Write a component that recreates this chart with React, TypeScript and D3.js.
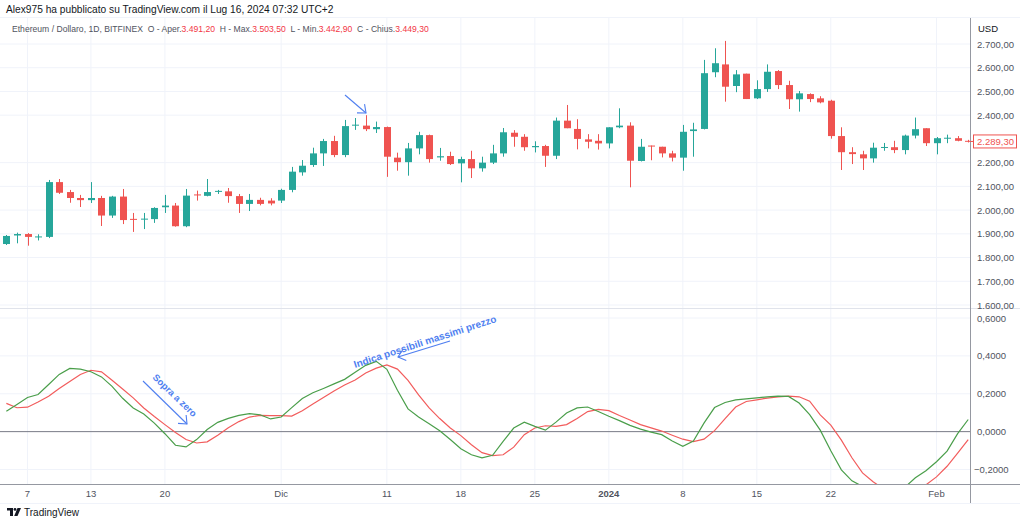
import React from "react";
import * as d3 from "d3";

// ---- DATA ----
const startDay = new Date(2023, 10, 5);
const endDay = new Date(2024, 1, 5);
const dates: Date[] = d3.timeDay.range(startDay, endDay); // 92 daily candles

const open = [1857,1893,1899,1886,1887,2118,2076,2051,2042,2051,1977,2057,1963,1960,1962,2012,2019,1932,2066,2060,2079,2079,2059,2026,2043,2040,2040,2085,2159,2190,2239,2291,2232,2356,2356,2341,2350,2221,2202,2260,2316,2222,2228,2197,2215,2176,2200,2239,2326,2309,2265,2270,2229,2377,2342,2298,2292,2281,2349,2356,2207,2272,2267,2239,2221,2333,2342,2581,2614,2523,2575,2471,2510,2586,2527,2467,2489,2471,2461,2312,2244,2235,2218,2263,2265,2253,2314,2345,2282,2301,2303,2292];
const high = [1895,1905,1903,1898,2127,2131,2085,2064,2118,2060,2060,2089,1988,1988,2012,2064,2030,2089,2082,2131,2085,2093,2068,2068,2052,2050,2090,2182,2211,2263,2300,2313,2380,2388,2400,2373,2352,2242,2283,2330,2318,2262,2246,2225,2250,2225,2275,2346,2337,2320,2290,2275,2390,2443,2383,2320,2320,2349,2429,2370,2300,2272,2267,2250,2359,2368,2633,2682,2713,2590,2575,2547,2614,2590,2545,2502,2492,2480,2465,2349,2265,2250,2284,2283,2292,2318,2390,2345,2308,2318,2312,2296];
const low = [1853,1860,1850,1872,1882,2068,2031,2013,2030,1933,1967,1941,1908,1920,1946,1988,1930,1928,2040,2058,2068,2031,1988,1996,2020,2020,2030,2075,2145,2182,2186,2223,2223,2338,2333,2325,2140,2166,2145,2235,2200,2208,2190,2117,2135,2162,2194,2225,2267,2250,2243,2182,2215,2345,2256,2260,2255,2260,2345,2096,2205,2210,2222,2205,2166,2225,2340,2560,2457,2497,2468,2468,2498,2510,2426,2415,2455,2450,2301,2169,2194,2169,2200,2250,2240,2235,2302,2270,2235,2282,2290,2285];
const close = [1891,1899,1887,1889,2118,2073,2051,2042,2051,1977,2057,1958,1960,1964,2009,2019,1932,2061,2062,2076,2081,2059,2026,2043,2026,2028,2085,2162,2187,2239,2291,2232,2354,2360,2341,2350,2225,2202,2260,2316,2215,2227,2194,2215,2176,2200,2239,2328,2309,2265,2270,2229,2377,2345,2300,2288,2281,2349,2356,2208,2267,2268,2239,2221,2330,2340,2577,2619,2520,2572,2468,2510,2583,2527,2467,2492,2468,2454,2312,2244,2236,2218,2263,2266,2253,2314,2341,2282,2303,2305,2292,2289.3];

const fastLine = [0.107,0.143,0.180,0.196,0.249,0.302,0.334,0.330,0.316,0.289,0.239,0.176,0.125,0.093,0.045,-0.011,-0.072,-0.081,-0.042,0.011,0.049,0.070,0.086,0.095,0.089,0.067,0.077,0.127,0.175,0.205,0.228,0.252,0.276,0.313,0.350,0.371,0.329,0.218,0.120,0.077,0.042,0.005,-0.042,-0.090,-0.122,-0.138,-0.125,-0.051,0.019,0.050,0.028,0.008,0.050,0.098,0.125,0.130,0.106,0.081,0.058,0.033,0.013,-0.003,-0.016,-0.050,-0.078,-0.050,0.045,0.127,0.154,0.168,0.173,0.178,0.184,0.187,0.186,0.151,0.090,0.008,-0.101,-0.202,-0.260,-0.289,-0.308,-0.318,-0.313,-0.294,-0.244,-0.207,-0.159,-0.103,-0.011,0.064];
const slowLine = [0.149,0.126,0.129,0.156,0.187,0.228,0.265,0.302,0.324,0.316,0.271,0.225,0.178,0.125,0.080,0.037,-0.005,-0.042,-0.060,-0.054,-0.019,0.021,0.053,0.077,0.086,0.085,0.084,0.082,0.110,0.146,0.180,0.215,0.246,0.273,0.310,0.335,0.352,0.330,0.271,0.194,0.125,0.069,0.019,-0.021,-0.069,-0.111,-0.127,-0.122,-0.082,-0.016,0.019,0.031,0.028,0.037,0.069,0.106,0.117,0.111,0.085,0.061,0.037,0.020,0.003,-0.019,-0.040,-0.053,-0.040,0.005,0.069,0.130,0.159,0.168,0.177,0.184,0.187,0.184,0.161,0.088,0.034,-0.045,-0.138,-0.218,-0.265,-0.302,-0.324,-0.329,-0.313,-0.281,-0.239,-0.183,-0.114,-0.042];

const priceTicks = [2700,2600,2500,2400,2200,2100,2000,1900,1800,1700,1600];
const oscTicks = [0.6,0.4,0.2,0,-0.2];
const timeTicks = [new Date(2023,10,7),new Date(2023,10,13),new Date(2023,10,20),new Date(2023,11,1),new Date(2023,11,11),new Date(2023,11,18),new Date(2023,11,25),new Date(2024,0,1),new Date(2024,0,8),new Date(2024,0,15),new Date(2024,0,22),new Date(2024,1,1)];
const timeLabels = ["7","13","20","Dic","11","18","25","2024","8","15","22","Feb"];
const lastPrice = 2289.3;

const headerLine = "Alex975 ha pubblicato su TradingView.com il Lug 16, 2024 07:32 UTC+2";
const legendParts = [
  { t: "Ethereum / Dollaro, 1D, BITFINEX  O - Aper.", red: false },
  { t: "3.491,20", red: true },
  { t: "  H - Max.", red: false },
  { t: "3.503,50", red: true },
  { t: "  L - Min.", red: false },
  { t: "3.442,90", red: true },
  { t: "  C - Chius.", red: false },
  { t: "3.449,30", red: true },
];

// ---- LAYOUT ----
const W = 1024, H = 526;
const plotRight = 970;
const priceTop = 18, priceBottom = 308;
const oscTop = 309, oscBottom = 484;
const UP = "#26a69a", DOWN = "#ef5350";
const FONT = "'Liberation Sans', Arial, sans-serif";
const ANN = "#4f7ff0";

const loc = d3.formatLocale({ decimal: ",", thousands: ".", grouping: [3], currency: ["", ""], minus: "\u2212" });
const fmtPrice = loc.format(",.2f");
const fmtOsc = loc.format(".4f");

function arrowHead(x1: number, y1: number, x2: number, y2: number, len = 9, ang = 0.7) {
  const a = Math.atan2(y1 - y2, x1 - x2);
  const p1 = [x2 + len * Math.cos(a + ang), y2 + len * Math.sin(a + ang)];
  const p2 = [x2 + len * Math.cos(a - ang), y2 + len * Math.sin(a - ang)];
  return `M${p1[0]},${p1[1]}L${x2},${y2}L${p2[0]},${p2[1]}`;
}

export default function App() {
  const x = d3.scaleTime().domain([new Date(2023, 10, 7), new Date(2024, 1, 1)]).range([27.5, 936.5]);
  const y = d3.scaleLinear().domain([1600, 2700]).range([305, 44]);
  const yo = d3.scaleLinear().domain([-0.2, 0.6]).range([469.5, 318]);
  const bw = 7;

  const fastPath = d3.line<number>().x((_, i) => x(dates[i])).y((v) => yo(v))(fastLine) || "";
  const slowPath = d3.line<number>().x((_, i) => x(dates[i])).y((v) => yo(v))(slowLine) || "";

  const a1 = [345, 95, 366, 113];
  const a2 = [143, 381, 187, 424];
  const a3 = [450, 341, 398, 357];

  return (
    <svg width={W} height={H} style={{ position: "absolute", left: 0, top: 0, background: "#fff" }} fontFamily={FONT}>
      <defs>
        <clipPath id="cp"><rect x={0} y={priceTop} width={plotRight} height={priceBottom - priceTop} /></clipPath>
        <clipPath id="co"><rect x={0} y={oscTop} width={plotRight} height={oscBottom - oscTop} /></clipPath>
      </defs>
      <rect x={0} y={0} width={W} height={H} fill="#fff" />

      {/* grid */}
      {timeTicks.map((t, i) => (
        <line key={"vg" + i} x1={x(t)} x2={x(t)} y1={priceTop} y2={oscBottom} stroke="#f0f3fa" />
      ))}
      {priceTicks.map((p) => (
        <line key={"pg" + p} x1={0} x2={plotRight} y1={y(p)} y2={y(p)} stroke="#f0f3fa" />
      ))}
      {oscTicks.filter((v) => v !== 0).map((v) => (
        <line key={"og" + v} x1={0} x2={plotRight} y1={yo(v)} y2={yo(v)} stroke="#f0f3fa" />
      ))}

      {/* candles */}
      <g clipPath="url(#cp)">
        {dates.map((d, i) => {
          const cx = Math.round(x(d)) + 0.5;
          const up = close[i] >= open[i];
          const col = up ? UP : DOWN;
          const top = y(Math.max(open[i], close[i]));
          const bot = y(Math.min(open[i], close[i]));
          return (
            <g key={"c" + i}>
              <line x1={cx} x2={cx} y1={y(high[i])} y2={y(low[i])} stroke={col} strokeWidth={1} />
              <rect x={cx - bw / 2} y={top} width={bw} height={Math.max(1, bot - top)} fill={col} />
            </g>
          );
        })}
      </g>

      {/* oscillator */}
      <line x1={0} x2={plotRight} y1={yo(0)} y2={yo(0)} stroke="#787b86" strokeWidth={1} />
      <g clipPath="url(#co)">
        <path d={slowPath} fill="none" stroke="#f25c5c" strokeWidth={1.2} />
        <path d={fastPath} fill="none" stroke="#4a9e4a" strokeWidth={1.2} />
      </g>

      {/* frame lines */}
      <line x1={0} x2={W - 4} y1={priceBottom + 0.5} y2={priceBottom + 0.5} stroke="#e0e3eb" />
      <line x1={0} x2={W - 4} y1={oscBottom + 0.5} y2={oscBottom + 0.5} stroke="#9598a1" />
      <line x1={plotRight + 0.5} x2={plotRight + 0.5} y1={priceTop} y2={503} stroke="#9598a1" />
      <line x1={0} x2={W - 4} y1={503.5} y2={503.5} stroke="#f0f3fa" />
      <line x1={0} x2={W - 4} y1={priceTop - 0.5} y2={priceTop - 0.5} stroke="#f0f3fa" />

      {/* annotations */}
      <g stroke={ANN} strokeWidth={1.1} fill="none">
        <line x1={a1[0]} y1={a1[1]} x2={a1[2]} y2={a1[3]} />
        <path d={arrowHead(a1[0], a1[1], a1[2], a1[3])} />
        <line x1={a2[0]} y1={a2[1]} x2={a2[2]} y2={a2[3]} />
        <path d={arrowHead(a2[0], a2[1], a2[2], a2[3])} />
        <line x1={a3[0]} y1={a3[1]} x2={a3[2]} y2={a3[3]} />
        <path d={arrowHead(a3[0], a3[1], a3[2], a3[3])} />
      </g>
      <text x={0} y={0} transform="translate(152,378) rotate(44)" fontSize={9.5} fontWeight={700} fill={ANN}>Sopra a zero</text>
      <text x={0} y={0} transform="translate(355,368) rotate(-18)" fontSize={10} fontWeight={700} fill={ANN}>Indica possibili massimi prezzo</text>

      {/* right axis */}
      <text x={978} y={32} fontSize={9.5} fill="#131722">USD</text>
      {priceTicks.map((p) => (
        <text key={"pt" + p} x={977} y={y(p) + 3.5} fontSize={9.5} fill="#50535e">{fmtPrice(p)}</text>
      ))}
      {oscTicks.map((v) => (
        <text key={"ot" + v} x={v < 0 ? 974 : 977} y={yo(v) + 3.5} fontSize={9.5} fill="#50535e">{fmtOsc(v)}</text>
      ))}
      <line x1={plotRight} x2={plotRight + 4} y1={y(lastPrice)} y2={y(lastPrice)} stroke={DOWN} />
      <rect x={973.5} y={y(lastPrice) - 6.5} width={43} height={13} fill="#fff" stroke={DOWN} />
      <text x={977} y={y(lastPrice) + 3.5} fontSize={9.5} fill={DOWN}>{fmtPrice(lastPrice)}</text>

      {/* time axis */}
      {timeTicks.map((t, i) => (
        <text key={"tt" + i} x={x(t)} y={497} textAnchor="middle" fontSize={9.5} fill="#50535e" fontWeight={timeLabels[i] === "2024" ? 700 : 400}>{timeLabels[i]}</text>
      ))}

      {/* header */}
      <text x={6} y={13} fontSize={10.2} fill="#131722" fontWeight={500}>{headerLine}</text>
      <text x={12} y={31.5} fontSize={8.6} xmlSpace="preserve">
        {legendParts.map((p, i) => (
          <tspan key={"lg" + i} fill={p.red ? "#f23645" : "#50535e"}>{p.t}</tspan>
        ))}
      </text>

      {/* logo */}
      <g transform="translate(7,508)" fill="#131722">
        <path d="M0,0H6V8H3V2.5H0Z" />
        <circle cx={8} cy={1.4} r={1.4} />
        <path d="M10.5,0H14L10.5,8H7.2Z" />
      </g>
      <text x={24} y={516} fontSize={10} fill="#131722">TradingView</text>
    </svg>
  );
}
